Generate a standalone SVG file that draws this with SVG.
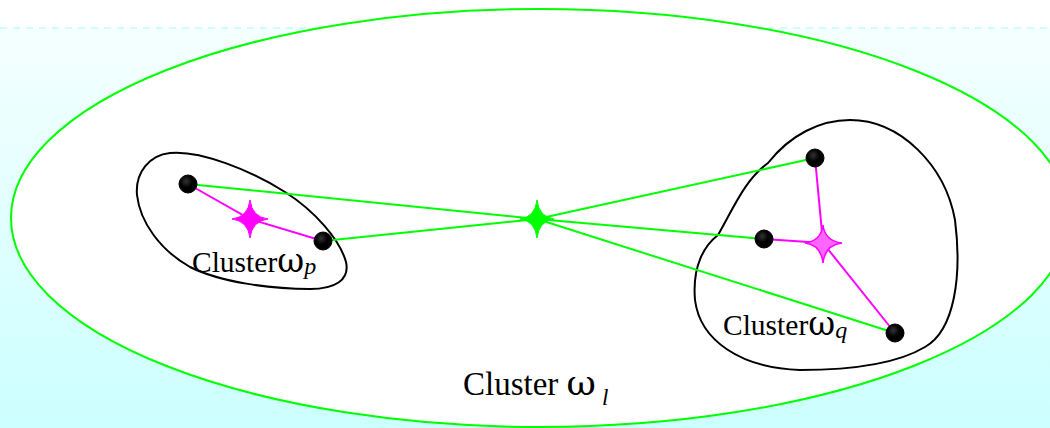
<svg xmlns="http://www.w3.org/2000/svg" width="1050" height="428" viewBox="0 0 1050 428">
<defs>
<linearGradient id="bg" x1="0" y1="0" x2="0" y2="1">
<stop offset="0" stop-color="#f5ffff"/>
<stop offset="1" stop-color="#ccffff"/>
</linearGradient>
<radialGradient id="dot" cx="0.4" cy="0.35" r="0.7">
<stop offset="0" stop-color="#333"/>
<stop offset="0.5" stop-color="#000"/>
</radialGradient>
</defs>
<style>
.blob{fill:none;stroke:#000;stroke-width:2}
.node{fill:url(#dot);stroke:#000;stroke-width:1}
.g{stroke:#00ff00;stroke-width:2;fill:none}
.m{stroke:#ff00ff;stroke-width:2;fill:none}
.lbl{font-family:"Liberation Serif","Times New Roman",serif;fill:#000}
.om{font-family:"DejaVu Serif","Liberation Serif",serif}
.sub{font-style:italic}
</style>
<rect x="0" y="0" width="1050" height="428" fill="#fff"/>
<rect x="0" y="28" width="1050" height="400" fill="url(#bg)"/>
<line x1="0" y1="28" x2="1050" y2="28" stroke="#ccffff" stroke-width="2" stroke-dasharray="7,6"/>
<g id="cluster-l">
<ellipse cx="540" cy="218" rx="529" ry="209" fill="#fff" stroke="#00ff00" stroke-width="2"/>
<text class="lbl" x="463" y="395" font-size="33">Cluster <tspan class="om" font-size="36">ω</tspan><tspan class="sub" font-size="23" dx="6" dy="10">l</tspan></text>
</g>
<g id="cluster-p">
<path class="blob" d="M 170,153 C 200,150 250,170 285,192 C 315,211 340,240 346,262 C 350,280 335,289 310,289 C 270,289 220,282 190,267 C 160,250 140,222 137,195 C 135,172 150,155 170,153 Z"/>
<text class="lbl" x="192" y="272" font-size="29.5">Cluster<tspan class="om" font-size="33">ω</tspan><tspan class="sub" font-size="24" dy="2">p</tspan></text>
</g>
<g id="cluster-q">
<path class="blob" d="M 850,120 C 900,120 945,165 955,220 C 962,275 955,330 925,347 C 895,365 845,370 800,370 C 740,368 700,340 695,300 C 692,265 705,245 718,235 C 735,205 745,180 768,163 C 790,135 820,120 850,120 Z"/>
<text class="lbl" x="723" y="335" font-size="29.5">Cluster<tspan class="om" font-size="33">ω</tspan><tspan class="sub" font-size="24" dy="3">q</tspan></text>
</g>
<g id="connectors">
<line class="g" x1="188" y1="184" x2="537" y2="219"/>
<line class="g" x1="323" y1="241" x2="537" y2="219"/>
<line class="g" x1="815" y1="158" x2="537" y2="219"/>
<line class="g" x1="764" y1="239" x2="537" y2="219"/>
<line class="g" x1="895" y1="333" x2="537" y2="219"/>
<polyline class="m" points="188,184 250,219 323,241"/>
<line class="m" x1="815" y1="158" x2="823" y2="243"/>
<line class="m" x1="764" y1="239" x2="823" y2="243"/>
<line class="m" x1="895" y1="333" x2="823" y2="243"/>
</g>
<g id="centroid-l">
<path d="M 537,200 Q 539,217 554,219 Q 539,221 537,238 Q 535,221 520,219 Q 535,217 537,200 Z" fill="#00ff00" stroke="#00ff00" stroke-width="1"/>
</g>
<g id="centroid-p">
<path d="M 250,200 Q 252,217 268,219 Q 252,221 250,238 Q 248,221 232,219 Q 248,217 250,200 Z" fill="#ff00ff" stroke="#ff00ff" stroke-width="1"/>
</g>
<g id="centroid-q">
<path d="M 823,225 Q 825,241 842,243 Q 825,245 823,263 Q 821,245 805,243 Q 821,241 823,225 Z" fill="#ff66ff" stroke="#ff00ff" stroke-width="1.5"/>
</g>
<g id="node-p1"><circle class="node" cx="188" cy="184" r="9"/></g>
<g id="node-p2"><circle class="node" cx="323" cy="241" r="9"/></g>
<g id="node-q1"><circle class="node" cx="815" cy="158" r="9"/></g>
<g id="node-q2"><circle class="node" cx="764" cy="239" r="9"/></g>
<g id="node-q3"><circle class="node" cx="895" cy="333" r="9"/></g>
</svg>
